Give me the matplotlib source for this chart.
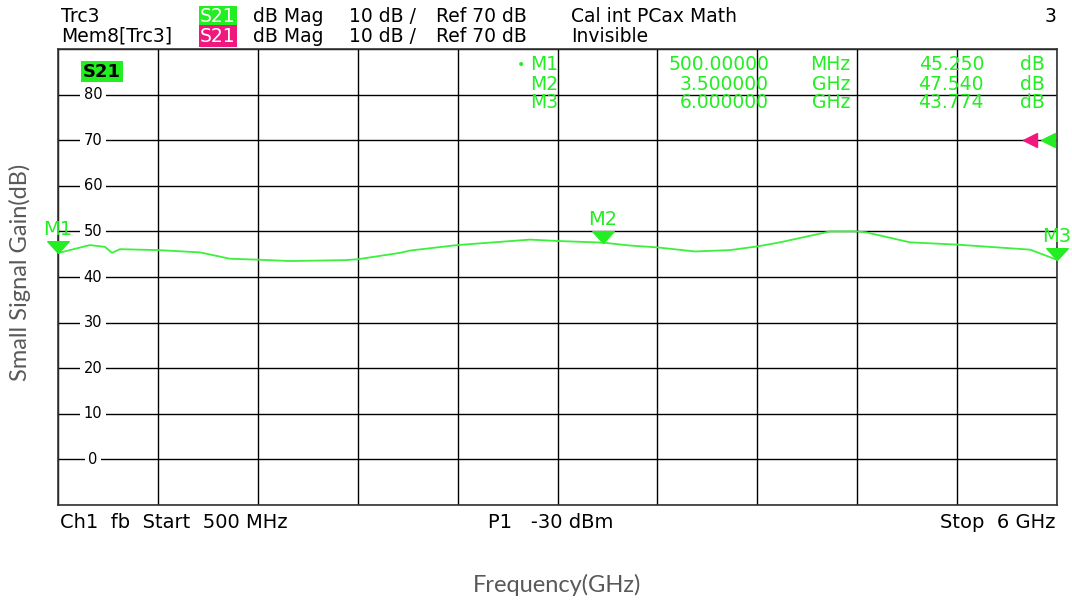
import numpy as np
import matplotlib
matplotlib.use("Agg")
import matplotlib.pyplot as plt
import matplotlib.transforms as mtransforms
from matplotlib.path import Path

# S21 trace (GHz, dB)
freq_ghz = [0.5, 0.676, 0.759, 0.797, 0.841, 1.05, 1.282, 1.447, 1.601, 1.777,
            2.08, 2.152, 2.383, 2.438, 2.697, 3.099, 3.248, 3.5, 3.649, 3.798,
            4.007, 4.2, 4.349, 4.475, 4.751, 4.899, 4.949, 5.191, 5.45, 5.852, 6.0]
gain_db = [45.25, 47.0, 46.6, 45.3, 46.1, 45.9, 45.4, 44.0, 43.8, 43.5,
           43.7, 43.9, 45.3, 45.8, 47.0, 48.2, 47.9, 47.54, 46.9, 46.5,
           45.6, 45.9, 46.7, 47.6, 50.0, 50.0, 49.8, 47.6, 47.1, 46.0, 43.774]

marker_names = ["M1", "M2", "M3"]
marker_freq = [0.5, 3.5, 6.0]
marker_gain = [45.25, 47.54, 43.774]
marker_freq_txt = ["500.00000", "3.500000", "6.000000"]
marker_unit = ["MHz", "GHz", "GHz"]
marker_gain_txt = ["45.250", "47.540", "43.774"]

y_ticks = [80, 70, 60, 50, 40, 30, 20, 10, 0]
ref_level = 70

GREEN = "#22ee22"
TRACE = "#3cf03c"
PINK = "#f0187e"
GRAY = "#595959"
hdr_font = ["DejaVu Sans"]
FS = 13.5

fig = plt.figure(figsize=(10.72, 6), dpi=100)
W, H = 1072, 600
ax = fig.add_axes([58 / W, 1 - 505 / H, 999 / W, 456 / H])
ax.set_xlim(0.5, 6.0)
ax.set_ylim(-10, 90)
ax.set_xticks(np.linspace(0.5, 6.0, 11))
ax.set_yticks(np.arange(-10, 91, 10))
ax.tick_params(length=0, labelbottom=False, labelleft=False)
ax.grid(True, color="black", lw=1.0)
for s in ax.spines.values():
    s.set_color("#333333")
    s.set_linewidth(1.2)

ax.plot(freq_ghz, gain_db, color=TRACE, lw=1.3, zorder=3)

# y labels drawn inside the grid
for v in y_ticks:
    ax.text(0.035, v, str(v), transform=ax.get_yaxis_transform(), ha="center", va="center",
            fontsize=10.5, family=hdr_font, color="black",
            bbox=dict(facecolor="white", edgecolor="none", pad=2.5), zorder=4)

# markers: downward triangle with tip on trace
tri = Path([(-1, 1.1), (1, 1.1), (0, 0), (-1, 1.1)],
           [Path.MOVETO, Path.LINETO, Path.LINETO, Path.CLOSEPOLY])
for name, f, g in zip(marker_names, marker_freq, marker_gain):
    ax.plot([f], [g], marker=tri, markersize=17, color=GREEN, clip_on=False, zorder=5)
    ax.annotate(name, (f, g), xytext=(0, 10), textcoords="offset points", ha="center",
                va="bottom", color=GREEN, fontsize=14, family=hdr_font,
                annotation_clip=False, zorder=5)

# reference level arrows on the right edge
bt = mtransforms.blended_transform_factory(ax.transAxes, ax.transData)
ax.plot([0.973], [ref_level], marker="<", markersize=10, color=PINK, transform=bt, clip_on=False, zorder=5)
ax.plot([0.991], [ref_level], marker="<", markersize=10, color=GREEN, transform=bt, clip_on=False, zorder=5)

# trace label box
ax.text(44 / 999, 0.95, "S21", transform=ax.transAxes, ha="center", va="center",
        fontsize=13, family=hdr_font, weight="bold", color="black",
        bbox=dict(facecolor=GREEN, edgecolor="none", pad=1.2))

# marker table
rows_y = [65, 84, 102]
for i in range(3):
    yy = 1 - rows_y[i] / H
    if i == 0:
        fig.text(521 / W, yy, "\u2022", ha="center", va="center", color=GREEN, fontsize=10, family=hdr_font)
    fig.text(530 / W, yy, marker_names[i], ha="left", va="center", color=GREEN, fontsize=FS, family=hdr_font)
    fig.text(769 / W, yy, marker_freq_txt[i], ha="right", va="center", color=GREEN, fontsize=FS, family=hdr_font)
    fig.text(850 / W, yy, marker_unit[i], ha="right", va="center", color=GREEN, fontsize=FS, family=hdr_font)
    fig.text(984 / W, yy, marker_gain_txt[i], ha="right", va="center", color=GREEN, fontsize=FS, family=hdr_font)
    fig.text(1045 / W, yy, "dB", ha="right", va="center", color=GREEN, fontsize=FS, family=hdr_font)

# header lines
for row, (name, boxc, extra) in enumerate([("Trc3", GREEN, "Cal int PCax Math"),
                                           ("Mem8[Trc3]", PINK, "Invisible")]):
    yy = 1 - (17 + 19 * row) / H
    fig.text(61 / W, yy, name, ha="left", va="center", fontsize=FS, family=hdr_font)
    fig.text(218 / W, yy, "S21", ha="center", va="center", fontsize=FS, family=hdr_font, color="white",
             bbox=dict(facecolor=boxc, edgecolor="none", pad=0.8))
    fig.text(253 / W, yy, "dB Mag", ha="left", va="center", fontsize=FS, family=hdr_font)
    fig.text(349 / W, yy, "10 dB /", ha="left", va="center", fontsize=FS, family=hdr_font)
    fig.text(436 / W, yy, "Ref 70 dB", ha="left", va="center", fontsize=FS, family=hdr_font)
    fig.text(571 / W, yy, extra, ha="left", va="center", fontsize=FS, family=hdr_font)
fig.text(1056 / W, 1 - 17 / H, "3", ha="right", va="center", fontsize=FS, family=hdr_font)

# footer
yb = 1 - 523 / H
fig.text(60 / W, yb, "Ch1  fb  Start  500 MHz", ha="left", va="center", fontsize=14, family=hdr_font)
fig.text(488 / W, yb, "P1   -30 dBm", ha="left", va="center", fontsize=14, family=hdr_font)
fig.text(1056 / W, yb, "Stop  6 GHz", ha="right", va="center", fontsize=14, family=hdr_font)

fig.text(557 / W, 1 - 585 / H, "Frequency(GHz)", ha="center", va="center", fontsize=17,
         family=["Lato", "DejaVu Sans"], color=GRAY)
fig.text(20 / W, 1 - 272 / H, "Small Signal Gain(dB)", ha="center", va="center", rotation=90,
         fontsize=17, family=["Lato", "DejaVu Sans"], color=GRAY)

fig.savefig("out.png", dpi=100)
